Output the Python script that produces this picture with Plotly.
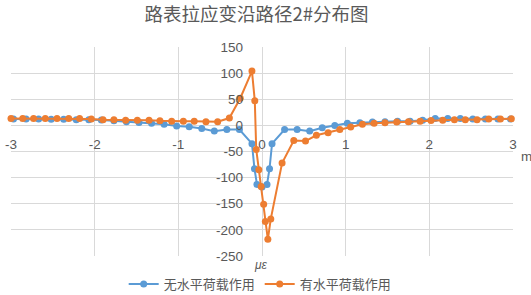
import plotly.graph_objects as go

# ---- data ----
blue_x = [-2.97, -2.82, -2.67, -2.52, -2.37, -2.22, -2.07, -1.92, -1.77, -1.62,
          -1.47, -1.32, -1.17, -1.02, -0.87, -0.72, -0.57, -0.42, -0.27, -0.12,
          -0.09, -0.06, 0.0, 0.06, 0.09,
          0.12, 0.27, 0.42, 0.57, 0.72, 0.87, 1.02, 1.17, 1.32, 1.47,
          1.62, 1.77, 1.92, 2.07, 2.22, 2.37, 2.52, 2.67, 2.82, 2.97]
blue_y = [12, 12, 12, 11.5, 11.5, 11, 11, 10.5, 9, 7,
          5.5, 4, 2, -1, -2.5, -6, -11, -8, -8, -35,
          -83, -113, -118, -113, -83,
          -35, -8, -8, -11, -4.5, 0, 4, 5, 6.5, 7,
          8, 8, 10, 13, 13, 13, 12, 12, 12, 12]

orange_x = [-3.00, -2.86, -2.73, -2.59, -2.45, -2.31, -2.18, -2.04, -1.90, -1.77,
            -1.63, -1.49, -1.35, -1.22, -1.08, -0.94, -0.81, -0.67, -0.53, -0.39,
            -0.26, -0.12, -0.086, -0.069, -0.038, -0.01, 0.02, 0.04, 0.07, 0.105,
            0.24, 0.38, 0.52, 0.65, 0.79, 0.93, 1.06, 1.20, 1.34, 1.47,
            1.61, 1.75, 1.89, 2.02, 2.16, 2.30, 2.43, 2.57, 2.71, 2.85, 2.98]
orange_y = [13, 13, 13, 13, 13, 13, 13, 12, 11, 11,
            10, 10, 10, 9, 8, 8, 8, 7, 7, 14,
            52, 104, 47, -46, -85, -117, -151, -184, -218, -179,
            -72, -29, -30, -19, -14, -8, -3, 2, 4, 5,
            6.5, 7, 8, 9.5, 10, 11, 11, 11, 12, 12, 12.5]

series_names = ["无水平荷载作用", "有水平荷载作用"]
title_text = "路表拉应变沿路径2#分布图"
x_ticks = [-3, -2, -1, 0, 1, 2, 3]
x_tick_labels = ["-3", "-2", "-1", "0", "1", "2", "3"]
y_ticks = [-250, -200, -150, -100, -50, 0, 50, 100, 150]
y_tick_labels = ["-250", "-200", "-150", "-100", "-50", "0", "50", "100", "150"]

BLUE = "#5B9BD5"
ORANGE = "#ED7D31"
GRID = "#D9D9D9"
TXT = "#595959"
FONT = "Liberation Sans, Noto Sans CJK SC, sans-serif"
CJK = "Noto Sans CJK SC, sans-serif"

fig = go.Figure()
fig.add_trace(go.Scatter(x=blue_x, y=blue_y, mode="lines+markers", name=series_names[0],
                         line=dict(color=BLUE, width=2), marker=dict(color=BLUE, size=7),
                         cliponaxis=False))
fig.add_trace(go.Scatter(x=orange_x, y=orange_y, mode="lines+markers", name=series_names[1],
                         line=dict(color=ORANGE, width=2), marker=dict(color=ORANGE, size=7),
                         cliponaxis=False))

fig.update_layout(
    width=531, height=295,
    margin=dict(l=11, r=18, t=47, b=39),
    paper_bgcolor="white", plot_bgcolor="white",
    font=dict(family=FONT, color=TXT, size=13),
    title=dict(text=title_text, x=0.483, xref="container", xanchor="center",
               y=1 - 15 / 295, yref="container", yanchor="middle",
               font=dict(size=18.5, color=TXT, family=CJK)),
    showlegend=True,
    legend=dict(orientation="h", x=0.49, xanchor="center", xref="container",
                y=1 - 284 / 295, yanchor="middle", yref="container",
                font=dict(size=13, color=TXT, family=CJK),
                itemwidth=30, bgcolor="rgba(0,0,0,0)"),
    xaxis=dict(range=[-3, 3], tickvals=x_ticks, ticktext=x_tick_labels,
               showgrid=True, gridcolor=GRID, gridwidth=1, zeroline=False,
               showline=False, anchor="free", position=0.625, ticks="",
               ticklabelstandoff=9, automargin=False,
               tickfont=dict(size=13.5, color=TXT)),
    yaxis=dict(range=[-250, 150], tickvals=y_ticks, ticktext=y_tick_labels,
               showgrid=True, gridcolor=GRID, gridwidth=1, zeroline=False,
               showline=False, anchor="free", position=0.5, ticks="",
               ticklabelstandoff=19, automargin=False,
               tickfont=dict(size=13.5, color=TXT)),
    annotations=[
        dict(text="m", x=1.027, y=0.474, xref="paper", yref="paper", showarrow=False,
             xanchor="center", yanchor="middle", font=dict(size=13.5, color=TXT)),
        dict(text="<i>με</i>", x=0.498, y=-0.045, xref="paper", yref="paper", showarrow=False,
             xanchor="center", yanchor="middle", font=dict(size=12, color=TXT)),
    ],
)

fig.write_html("out.html", config={"displayModeBar": False},
               post_script="document.body.style.margin='0';")
